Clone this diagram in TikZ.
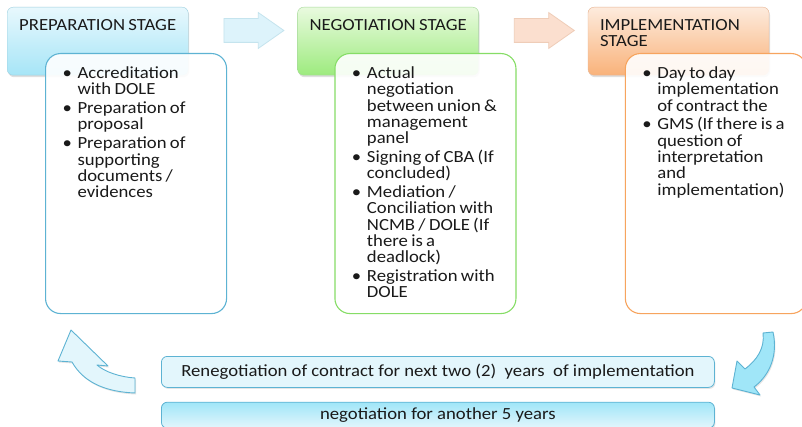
\documentclass[tikz,border=0pt]{standalone}
\usepackage{fontspec}
\setmainfont{Carlito}[FakeStretch=1.1]
\usepackage{xcolor}
\usepackage{tikz}
\usetikzlibrary{positioning}
\usetikzlibrary{calc}
\usetikzlibrary{shapes.arrows}
\usetikzlibrary{shadows}
\definecolor{inktext}{HTML}{1A1A1A}
\definecolor{skytop}{HTML}{E8F8FD}
\definecolor{skybot}{HTML}{A6E5F7}
\definecolor{skyedge}{HTML}{9CCFDF}
\definecolor{skyline}{HTML}{5DB3D3}
\definecolor{leaftop}{HTML}{E9FADF}
\definecolor{leafbot}{HTML}{9DEB7E}
\definecolor{leafedge}{HTML}{A6D99A}
\definecolor{leafline}{HTML}{86DD66}
\definecolor{peachtop}{HTML}{FDEBDD}
\definecolor{peachbot}{HTML}{F9B27A}
\definecolor{peachedge}{HTML}{E7B594}
\definecolor{peachline}{HTML}{F7A45E}
\definecolor{paleblue}{HTML}{E3F6FC}
\definecolor{cyanfill}{HTML}{A0E6F8}
\definecolor{arrowsky}{HTML}{DDF3FB}
\definecolor{arrowskyedge}{HTML}{C5E4EE}
\definecolor{arrowpeach}{HTML}{FBDFCF}
\definecolor{arrowpeachedge}{HTML}{EFCDB8}
\newcommand{\stageitem}{\leftskip=21pt\hangindent=11pt\hangafter=1\hspace*{-4pt}\makebox[15pt][l]{\textbullet}}

\begin{document}
\begin{tikzpicture}[x=1pt,y=-1pt,
	execute at begin node={\fontsize{17}{16.3}\selectfont\setlength{\parskip}{2.5pt}},
	stagehead/.style={draw, rounded corners=6pt, anchor=north west, minimum width=181pt, minimum height=68pt,
		inner xsep=12pt, inner ysep=0pt, text width=157pt, align=left, text height=23pt, text depth=45pt, text=inktext,
		drop shadow={shadow xshift=1pt,shadow yshift=-2pt,opacity=0.25}},
	stagebody/.style={draw, line width=1.1pt, rounded corners=15pt, fill=white, fill opacity=0.9, text opacity=1,
		anchor=north west, minimum width=181pt, minimum height=260pt, inner sep=0pt, text width=181pt, align=left,
		text height=25pt, text depth=235pt, text=inktext},
	flowarrow/.style={single arrow, single arrow tip angle=70, single arrow head extend=6pt,
		minimum height=60pt, inner xsep=0pt, inner ysep=11.5pt, draw, line width=0.8pt},
	loopbox/.style={draw=skyline, line width=0.8pt, rounded corners=6pt, anchor=north west, minimum width=553pt,
		inner sep=0pt, text=inktext, drop shadow={shadow xshift=1pt,shadow yshift=-1.5pt,opacity=0.2}},
	looparrow/.style={draw=skyline, line width=0.9pt, line join=round,
		drop shadow={shadow xshift=1pt,shadow yshift=-1.5pt,opacity=0.2}}]
  \useasboundingbox[fill=white] (0,0) rectangle (802,427);

  \node[stagehead, top color=skytop, bottom color=skybot, draw=skyedge] (prep) at (7,7) {\mbox{PREPARATION STAGE}};
  \node[stagehead, top color=leaftop, bottom color=leafbot, draw=leafedge, right=109pt of prep] (nego) {\mbox{NEGOTIATION STAGE}};
  \node[stagehead, top color=peachtop, bottom color=peachbot, draw=peachedge, right=109pt of nego] (impl) {IMPLEMENTATION\newline STAGE};

  \node[flowarrow, fill=arrowsky, draw=arrowskyedge] (arrA) at ($(prep.north east)!0.5!(nego.north west)+(2.5,23.5)$) {};
  \node[flowarrow, fill=arrowpeach, draw=arrowpeachedge] (arrB) at ($(nego.north east)!0.5!(impl.north west)+(2.5,23.5)$) {};

  \node[stagebody, draw=skyline] (prepbody) at ($(prep.north west)+(38,46)$) {%
    \stageitem Accreditation\newline with DOLE\par
    \stageitem Preparation of\newline proposal\par
    \stageitem Preparation of\newline supporting\newline documents /\newline evidences\par};
  \node[stagebody, draw=leafline] (negobody) at ($(nego.north west)+(37,46)$) {%
    \stageitem Actual\newline negotiation\newline between union \&\newline management\newline panel\par
    \stageitem Signing of CBA (If\newline concluded)\par
    \stageitem Mediation /\newline Conciliation with\newline NCMB / DOLE (If\newline there is a\newline deadlock)\par
    \stageitem Registration with\newline DOLE\par};
  \node[stagebody, draw=peachline] (implbody) at ($(impl.north west)+(37,46)$) {%
    \stageitem Day to day\newline implementation\newline of contract the\par
    \stageitem GMS (If there is a\newline question of\newline interpretation\newline and\newline implementation)\par};

  \node[loopbox, fill=paleblue, minimum height=31pt] (reneg) at (161,356) {Renegotiation of contract for next two (2) \ years \ of implementation};
  \node[loopbox, top color=cyanfill, bottom color=paleblue, minimum height=26pt, below=14pt of reneg.south west, anchor=north west] (again) {negotiation for another 5 years};

  \draw[looparrow, fill=paleblue] (135,378) .. controls (120,377) and (105,372) .. (97,365)
    -- (108,366) -- (71,330) -- (58,361) -- (72,362)
    .. controls (85,385) and (110,392) .. (135,393) -- cycle;
  \draw[looparrow, fill=cyanfill] (763,333) -- (773,332)
    .. controls (778,355) and (770,375) .. (754,387)
    -- (760,395) -- (732,388) -- (737,361) -- (745,369)
    .. controls (757,360) and (765,348) .. (763,333) -- cycle;
\end{tikzpicture}
\end{document}
